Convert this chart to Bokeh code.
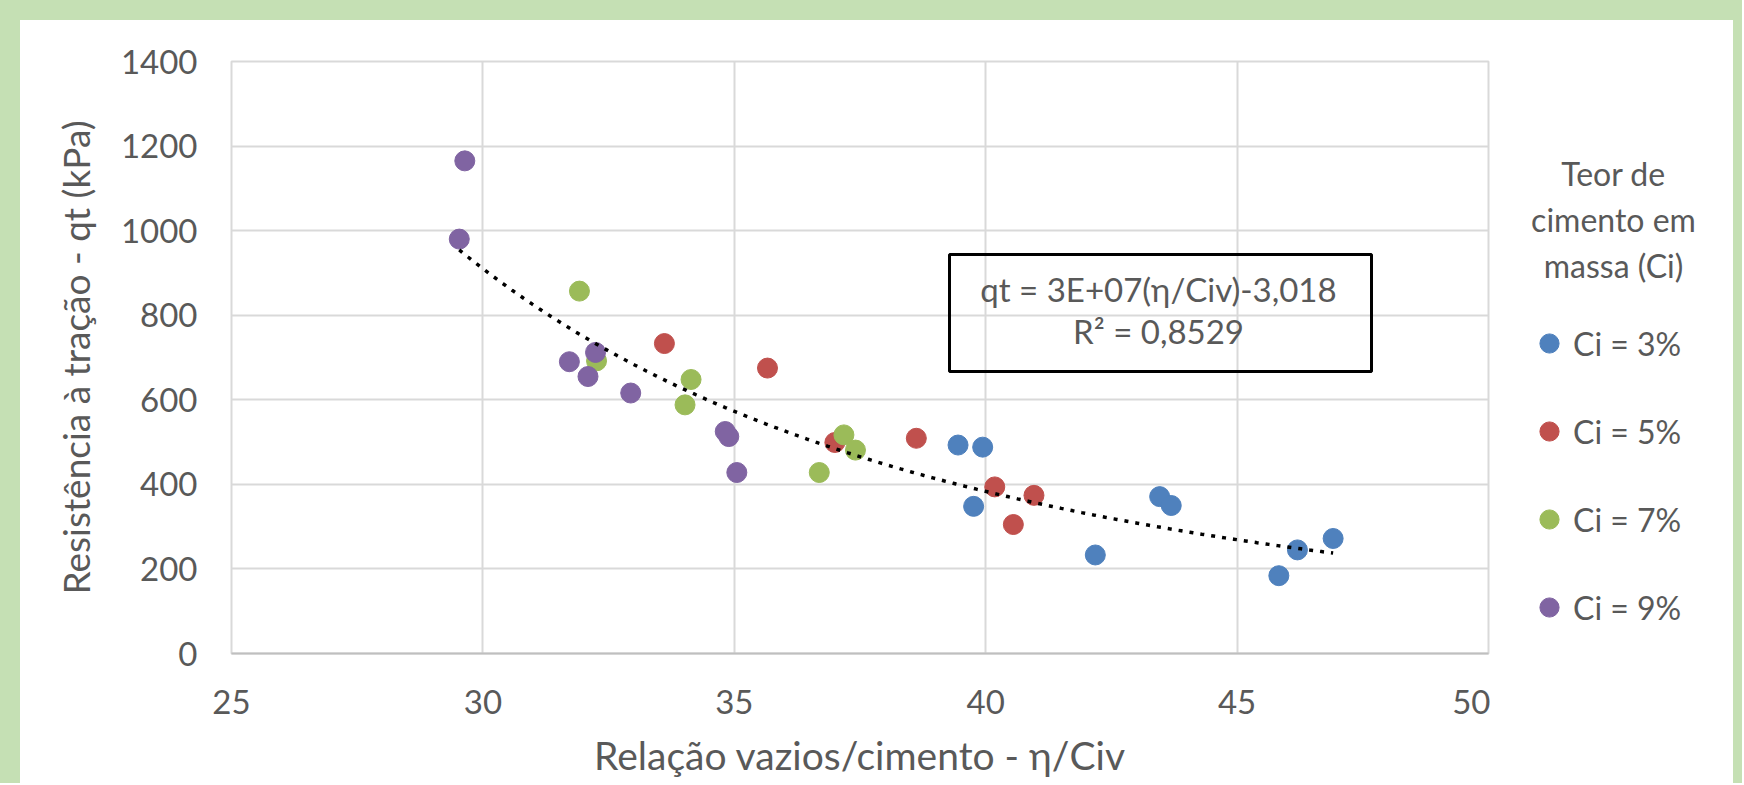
import numpy as np
from bokeh.plotting import figure
from bokeh.models import (Legend, LegendItem, Label, BoxAnnotation, FixedTicker, Range1d)
from bokeh.layouts import column, row
from bokeh.embed import file_html
from bokeh.resources import INLINE

# ---------------- data ----------------
ci3_x = [39.45, 39.94, 39.76, 42.18, 43.46, 43.69, 45.83, 46.20, 46.91]
ci3_y = [493, 488, 348, 233, 371, 350, 184, 245, 272]

ci5_x = [33.61, 35.66, 37.00, 38.62, 40.18, 40.55, 40.96]
ci5_y = [733, 675, 499, 509, 394, 305, 374]

ci7_x = [31.92, 32.26, 34.02, 34.14, 36.69, 37.18, 37.41]
ci7_y = [857, 692, 588, 648, 428, 517, 481]

ci9_x = [29.53, 29.64, 31.72, 32.09, 32.24, 32.94, 34.82, 34.89, 35.05]
ci9_y = [980, 1165, 690, 655, 712, 616, 525, 513, 428]

series_names = ["Ci = 3%", "Ci = 5%", "Ci = 7%", "Ci = 9%"]
series_colors = ["#4F81BD", "#C0504D", "#9BBB59", "#8064A2"]
x_ticks = [25, 30, 35, 40, 45, 50]
y_ticks = [0, 200, 400, 600, 800, 1000, 1200, 1400]
legend_title_lines = ["Teor de", "cimento em", "massa (Ci)"]
equation_text = "qt = 3E+07(η/Civ)-3,018"
r2_text = "R² = 0,8529"
x_title = "Relação vazios/cimento - η/Civ"
y_title = "Resistência à tração - qt (kPa)"

# ---------------- style / layout ----------------
FONT = "Lato"
TXT = "#595959"
GRID = "#D9D9D9"
GREEN = "#C5E0B4"

TOP, LEFT = 20, 20                    # green frame thickness (page px)
FL, FR, FT, FB = 231, 1488, 61, 653   # plot frame edges in page pixels
PAGE_BOTTOM = 783
SPLIT = 1490                          # where the legend panel starts
RIGHT_END = 1733
XMIN, XMAX, YMIN, YMAX = 25, 50, 0, 1400


def px_x(px):
    return XMIN + (px - FL) * (XMAX - XMIN) / (FR - FL)


def px_y(py):
    return YMIN + (FB - py) * (YMAX - YMIN) / (FB - FT)


p = figure(width=SPLIT - LEFT, height=PAGE_BOTTOM - TOP, output_backend="svg",
           toolbar_location=None,
           x_range=Range1d(XMIN, XMAX), y_range=Range1d(YMIN, YMAX),
           min_border_left=FL - LEFT, min_border_right=SPLIT - FR,
           min_border_top=FT - TOP, min_border_bottom=PAGE_BOTTOM - FB,
           border_fill_color="white", background_fill_color="white")
p.outline_line_color = GRID
p.outline_line_width = 2

for ax, ticks in ((p.xaxis, x_ticks), (p.yaxis, y_ticks)):
    ax.ticker = FixedTicker(ticks=ticks)
    ax.major_tick_line_color = None
    ax.minor_tick_line_color = None
    ax.major_label_text_font = FONT
    ax.major_label_text_font_size = "33px"
    ax.major_label_text_color = TXT
    ax.axis_line_width = 2
    ax.axis_label_text_font = FONT
    ax.axis_label_text_font_style = "normal"
    ax.axis_label_text_color = TXT
p.xaxis.axis_line_color = "#BFBFBF"
p.yaxis.axis_line_color = None        # left edge drawn by the frame outline
p.yaxis.bounds = (-180, 1400)         # shifts the centre of the y title down a little
p.xaxis.major_label_standoff = 30
p.yaxis.major_label_standoff = 28
p.xaxis.axis_label = x_title
p.yaxis.axis_label = y_title
p.xaxis.axis_label_text_font_size = "39px"
p.yaxis.axis_label_text_font_size = "37px"
p.xaxis.axis_label_standoff = 15
p.yaxis.axis_label_standoff = 20

for g in (p.xgrid, p.ygrid):
    g.grid_line_color = GRID
    g.grid_line_width = 2

# ---------------- scatter series ----------------
xs_all = [ci3_x, ci5_x, ci7_x, ci9_x]
ys_all = [ci3_y, ci5_y, ci7_y, ci9_y]
for xs, ys, c in zip(xs_all, ys_all, series_colors):
    p.scatter(xs, ys, size=20, fill_color=c, line_color=c, line_width=1, marker="circle")

# ---------------- power trendline (least squares in log space) ----------------
ax_ = np.array(sum(xs_all, []), dtype=float)
ay_ = np.array(sum(ys_all, []), dtype=float)
b, a = np.polyfit(np.log(ax_), np.log(ay_), 1)
tx = np.linspace(ax_.min(), ax_.max(), 300)
ty = np.exp(a) * tx ** b
p.line(tx, ty, line_color="black", line_width=3.5, line_dash="4 7")

# ---------------- equation box ----------------
p.add_layout(BoxAnnotation(left=px_x(949), right=px_x(1371), top=px_y(254), bottom=px_y(371),
                           fill_alpha=0, line_color="black", line_alpha=1, line_width=3))
for txt, py in ((equation_text, 288), (r2_text, 330)):
    p.add_layout(Label(x=px_x(1158), y=px_y(py), text=txt, text_align="center",
                       text_baseline="middle", text_font=FONT, text_font_size="33px",
                       text_color=TXT))

# ---------------- legend panel (second figure; y in page pixels) ----------------
lf = figure(width=RIGHT_END - SPLIT, height=PAGE_BOTTOM - TOP, output_backend="svg",
            toolbar_location=None, x_axis_location=None, y_axis_location=None,
            x_range=Range1d(SPLIT, RIGHT_END), y_range=Range1d(FB, FT),
            min_border_left=0, min_border_right=0,
            min_border_top=FT - TOP, min_border_bottom=PAGE_BOTTOM - FB,
            border_fill_color="white", background_fill_color="white")
lf.outline_line_color = None
lf.grid.visible = False

for txt, py in zip(legend_title_lines, (173, 219, 265)):
    lf.add_layout(Label(x=1613, y=py, text=txt, text_align="center",
                        text_baseline="middle", text_font=FONT, text_font_size="32px",
                        text_color=TXT))

# one off-screen point each, only so that the legend can draw its marker
dummies = [lf.scatter(x=[0], y=[0], size=20, marker="circle", fill_color=c, line_color=c)
           for c in series_colors]
legend = Legend(items=[LegendItem(label=n, renderers=[r]) for n, r in zip(series_names, dummies)],
                location=(1525 - SPLIT, FB - 632), orientation="vertical",
                glyph_width=48, glyph_height=50, label_height=50, label_standoff=0, spacing=38,
                padding=0, margin=0, border_line_color=None, background_fill_alpha=0,
                label_text_font=FONT, label_text_font_size="32px", label_text_color=TXT)
lf.add_layout(legend)

inner = row(p, lf, styles={"background-color": "white"})
inner.margin = (TOP, 9, 0, LEFT)
layout = column(inner, styles={"background-color": GREEN})

open("out.html", "w").write(file_html(layout, INLINE))
